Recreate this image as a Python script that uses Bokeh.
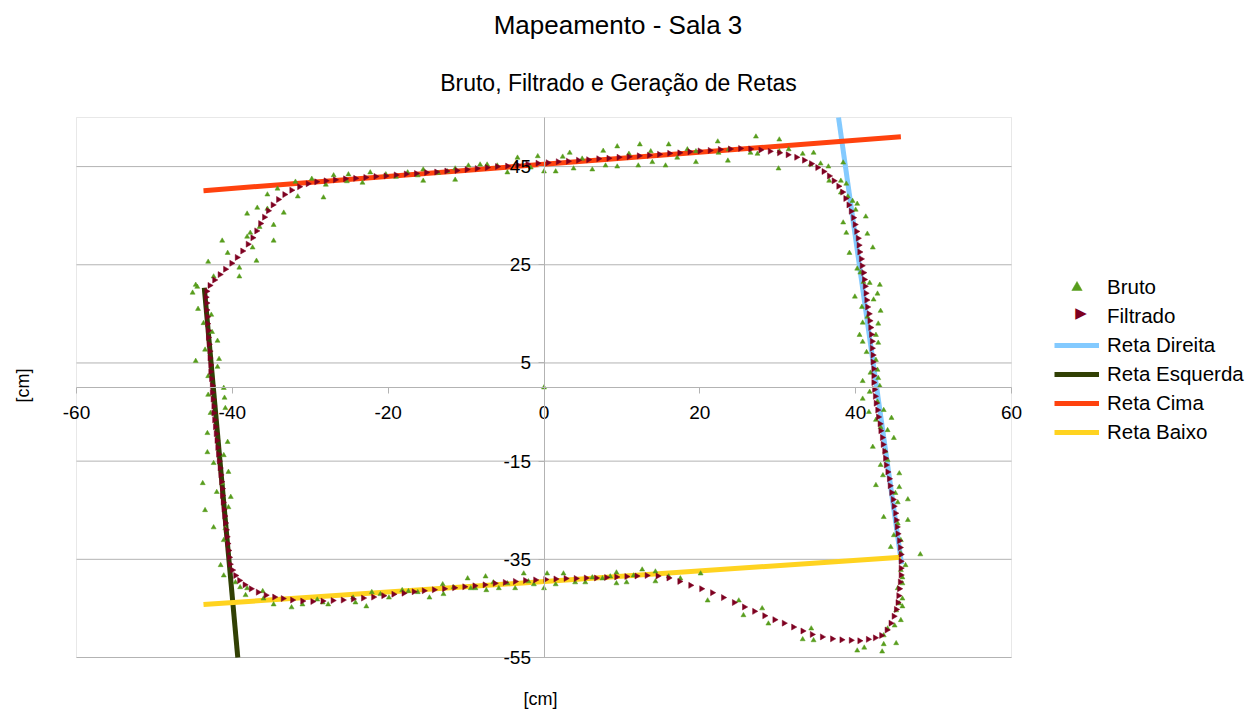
import math
from bokeh.plotting import figure
from bokeh.models import (Range1d, FixedTicker, Label, Legend, LegendItem, BoxAnnotation)
from bokeh.embed import file_html
from bokeh.resources import INLINE

# ---------------- data ----------------
title_text = "Mapeamento - Sala 3"
subtitle_text = "Bruto, Filtrado e Geração de Retas"
x_label = "[cm]"
y_label = "[cm]"

x_ticks = [-60, -40, -20, 0, 20, 40, 60]
y_ticks = [-55, -35, -15, 5, 25, 45]

series_names = ["Bruto", "Filtrado", "Reta Direita", "Reta Esquerda", "Reta Cima", "Reta Baixo"]

# fitted lines (end points)
reta_direita_x = [37.8, 45.9]
reta_direita_y = [55.0, -36.0]
reta_esquerda_x = [-43.6, -39.3]
reta_esquerda_y = [20.3, -55.0]
reta_cima_x = [-43.7, 45.8]
reta_cima_y = [40.1, 51.1]
reta_baixo_x = [-43.7, 45.8]
reta_baixo_y = [-44.2, -34.6]

# raw points (Bruto)
bruto_pts = [
    (0.0, 0.0),
    (-45.1, 19.3), (-44.5, 20.5), (-43.1, 25.6), (-42.4, 22.6), (-41.3, 29.9), (-40.6, 27.4),
    (-39.1, 24.4), (-39.1, 22.6), (-38.1, 35.4), (-38.1, 30.7), (-37.7, 31.5), (-37.4, 28.5),
    (-36.9, 25.8), (-36.8, 36.6), (-36.5, 32.7), (-35.5, 39.3), (-35.5, 36.4), (-34.7, 29.9),
    (-34.7, 33.1), (-34.2, 40.5), (-33.4, 35.6), (-31.9, 41.9), (-31.6, 38.9), (-29.8, 42.5),
    (-28.3, 38.7), (-28.0, 41.3), (-27.0, 43.2), (-25.1, 43.4), (-25.3, 42.0), (-23.3, 41.7),
    (-22.3, 43.8), (-20.3, 43.4), (-19.0, 42.9), (-17.5, 43.8), (-16.2, 43.2), (-15.5, 44.4),
    (-15.5, 42.1), (-13.6, 43.7), (-12.4, 44.0), (-11.4, 44.6), (-11.4, 42.3), (-9.7, 45.2),
    (-8.2, 45.4), (-7.3, 45.4), (-6.0, 45.2), (-4.7, 43.8), (-3.4, 46.8), (-1.7, 44.8),
    (-0.8, 47.1),
    (0.0, 44.0), (1.5, 44.0), (2.4, 47.0), (3.3, 47.8), (3.8, 44.6), (4.9, 46.6), (6.2, 44.4),
    (7.6, 48.2), (7.9, 45.2), (9.4, 49.1), (9.4, 45.0), (10.9, 47.6), (12.1, 45.2), (12.3, 49.5),
    (13.7, 48.1), (13.9, 45.9), (15.6, 45.2), (16.0, 49.5), (17.1, 46.8), (18.4, 48.5),
    (19.5, 48.1), (19.5, 45.9), (22.3, 50.1), (22.4, 47.8), (23.6, 46.2), (23.7, 48.5),
    (26.5, 47.8), (27.2, 51.1), (27.4, 47.6), (30.1, 44.6), (30.2, 50.5), (30.2, 48.1),
    (31.4, 48.5), (33.2, 47.6), (34.6, 47.8), (34.2, 45.4), (35.5, 45.6), (36.5, 45.0),
    (38.4, 45.8), (36.6, 42.1), (38.1, 42.1), (38.8, 41.5),
    (38.1, 39.7), (39.0, 38.9), (39.6, 38.0), (40.2, 37.4), (40.0, 36.2), (41.3, 34.8),
    (38.4, 33.6), (38.8, 31.5), (41.5, 31.3), (42.2, 28.5), (39.2, 27.4), (40.2, 24.2),
    (40.6, 23.4), (41.0, 21.5), (41.8, 21.3), (43.1, 20.9), (42.8, 19.1), (39.9, 18.5),
    (42.3, 17.9), (43.2, 15.6), (40.8, 16.4), (41.5, 14.4), (40.9, 13.2), (42.9, 13.0),
    (42.6, 10.7), (40.5, 10.7), (40.9, 9.3), (42.9, 9.1), (41.4, 7.2), (42.6, 5.6),
    (42.8, 3.6), (41.9, 3.0), (42.9, 1.9), (40.9, 1.3), (43.1, 0.3), (41.8, -0.9),
    (40.9, -2.3), (42.8, -2.9), (41.7, -5.0), (43.6, -4.6), (42.6, -6.6), (44.6, -6.2),
    (43.2, -8.1), (44.1, -8.7), (44.9, -10.3), (42.2, -12.1), (43.8, -13.0), (44.1, -14.8),
    (43.2, -15.8), (45.6, -17.5), (43.5, -17.9), (42.6, -19.9), (45.6, -20.3), (45.1, -21.5),
    (46.7, -22.8), (45.4, -23.4), (43.6, -26.4), (46.7, -27.0), (45.4, -27.7), (44.9, -30.1),
    (45.8, -31.1), (44.5, -32.5), (45.8, -33.8), (48.3, -34.0),
    (46.4, -36.2), (45.8, -37.2), (46.0, -38.7), (46.0, -39.9), (45.4, -40.9), (46.0, -43.0),
    (45.6, -44.0), (46.0, -44.6), (45.2, -45.4), (45.8, -47.4), (45.0, -48.5), (44.1, -49.1),
    (43.6, -50.5), (43.6, -52.3), (43.4, -53.8), (45.2, -52.1), (41.1, -53.0), (40.2, -53.6),
    (34.6, -51.5), (33.2, -51.3), (34.3, -49.1), (28.8, -48.1), (28.0, -45.0), (25.6, -46.4),
    (25.0, -43.4), (21.0, -43.4), (20.1, -37.9),
    (17.5, -38.9), (16.0, -38.5), (14.3, -37.5), (14.3, -39.5), (12.6, -37.1), (11.5, -38.3),
    (10.6, -39.7), (9.3, -37.7), (9.3, -39.9), (8.5, -38.5), (7.5, -38.9), (6.2, -38.7),
    (5.3, -39.7), (4.0, -39.7), (2.5, -37.9), (1.5, -40.1), (0.4, -37.9), (0.0, -40.9),
    (-1.3, -40.1), (-2.0, -39.5), (-2.6, -37.9), (-3.7, -40.9), (-4.7, -39.9), (-5.8, -40.9),
    (-6.5, -39.7), (-7.4, -41.3), (-7.5, -38.5), (-8.8, -40.9), (-9.4, -40.9), (-9.8, -38.9),
    (-11.6, -40.7), (-12.9, -42.1), (-13.0, -40.1), (-14.7, -42.8), (-16.2, -41.7),
    (-17.4, -41.5), (-18.2, -41.3), (-19.9, -42.8), (-21.0, -42.1), (-22.1, -41.7),
    (-22.8, -44.6), (-24.2, -43.8), (-24.5, -42.8), (-27.7, -44.2), (-28.4, -43.8),
    (-29.1, -43.2), (-31.0, -44.2), (-32.4, -44.8), (-34.7, -44.2), (-36.0, -43.0),
    (-36.1, -41.5), (-38.1, -40.9), (-38.3, -42.3), (-39.0, -40.7), (-39.6, -39.7),
    (-41.1, -38.3), (-41.5, -36.2),
    (-41.1, -31.1), (-40.9, -28.7), (-42.4, -28.5), (-43.5, -25.0), (-40.5, -24.4),
    (-40.2, -22.3), (-42.0, -21.3), (-41.3, -19.5), (-43.8, -19.5), (-40.5, -17.2),
    (-42.4, -15.4), (-41.1, -13.8), (-43.2, -13.2), (-40.6, -11.1), (-43.2, -9.3),
    (-42.8, -5.2), (-40.9, -4.2), (-41.0, -2.1), (-43.1, -1.5), (-41.1, -0.1), (-43.1, 2.3),
    (-41.9, 4.2), (-44.7, 5.4), (-41.7, 5.8), (-43.5, 7.7), (-41.9, 9.5), (-42.6, 11.3),
    (-43.7, 13.1), (-42.7, 14.8), (-44.4, 16.0), (-44.7, 20.9),
]

# filtered points (Filtrado)
filtrado_pts = [
    (-43.3, 19.6), (-42.9, 20.8), (-42.3, 21.9), (-41.6, 23.0), (-40.9, 24.1), (-40.1, 25.3),
    (-39.4, 26.5), (-38.7, 27.8), (-38.0, 29.2), (-37.4, 30.5), (-36.9, 31.9), (-36.4, 33.4),
    (-35.9, 34.7), (-35.4, 36.0), (-34.8, 37.2), (-34.1, 38.3), (-33.3, 39.3), (-32.4, 40.2),
    (-31.4, 40.9), (-30.3, 41.5), (-29.2, 41.9), (-28.0, 42.1),
    (-26.8, 42.3), (-25.5, 42.5), (-24.2, 42.6), (-22.9, 42.8), (-21.6, 43.0), (-20.3, 43.1),
    (-19.0, 43.3), (-17.7, 43.5), (-16.4, 43.6), (-15.1, 43.8), (-13.8, 43.9), (-12.5, 44.1),
    (-11.2, 44.2), (-9.9, 44.4), (-8.6, 44.6), (-7.3, 44.8), (-6.0, 45.0), (-4.7, 45.1),
    (-3.4, 45.3), (-2.1, 45.5), (-0.8, 45.7), (0.5, 45.8), (1.8, 46.0), (3.1, 46.1),
    (4.4, 46.3), (5.7, 46.4), (7.0, 46.6), (8.3, 46.7), (9.6, 46.9), (10.9, 47.0),
    (12.2, 47.2), (13.5, 47.3), (14.8, 47.5), (16.1, 47.7), (17.4, 47.8), (18.7, 48.0),
    (20.0, 48.2), (21.3, 48.3), (22.6, 48.5), (23.9, 48.6), (25.2, 48.7), (26.5, 48.6),
    (27.8, 48.4), (29.0, 48.1), (30.2, 47.8), (31.3, 47.4), (32.4, 46.9), (33.4, 46.3),
    (34.3, 45.6), (35.1, 44.8), (35.9, 44.0), (36.6, 43.1), (37.2, 42.1), (37.8, 41.0),
    (38.3, 39.8),
    (38.7, 38.5), (39.1, 37.2), (39.4, 35.9), (39.7, 34.6), (39.9, 33.2), (40.1, 31.8),
    (40.3, 30.4), (40.4, 29.0), (40.5, 27.6), (40.7, 26.2), (40.8, 24.8), (41.0, 23.4),
    (41.1, 22.0), (41.2, 20.6), (41.3, 19.2), (41.4, 17.8), (41.5, 16.4), (41.7, 15.0),
    (41.8, 13.6), (41.9, 12.2), (42.0, 10.8), (42.1, 9.4), (42.1, 8.0), (42.2, 6.6),
    (42.2, 5.2), (42.3, 3.8), (42.3, 2.4), (42.3, 1.0), (42.4, -0.4), (42.5, -1.8),
    (42.6, -3.2), (42.8, -4.6), (42.9, -6.0), (43.1, -7.4), (43.2, -8.8), (43.4, -10.2),
    (43.5, -11.6), (43.7, -13.0), (43.8, -14.4), (43.9, -15.8), (44.1, -17.2), (44.3, -18.6),
    (44.4, -20.0), (44.6, -21.4), (44.8, -22.8), (44.9, -24.2), (45.1, -25.6), (45.2, -27.0),
    (45.3, -28.4), (45.4, -29.8), (45.6, -31.2), (45.7, -32.6), (45.8, -34.0), (45.8, -35.4),
    (45.8, -36.8), (45.8, -38.2), (45.7, -39.6), (45.6, -41.0), (45.5, -42.4), (45.4, -43.8),
    (45.2, -45.2), (44.9, -46.6), (44.5, -48.0), (44.0, -49.4), (43.3, -50.5),
    (42.5, -51.0), (41.6, -51.3), (40.5, -51.6), (39.4, -51.5), (38.2, -51.4), (37.0, -51.2),
    (35.7, -50.8), (34.4, -50.3), (33.2, -49.6), (32.0, -48.8), (30.8, -48.0), (29.6, -47.3),
    (28.3, -46.5), (27.0, -45.6), (25.7, -44.7), (24.4, -43.8), (23.0, -42.8), (21.6, -41.8),
    (20.2, -41.0), (18.8, -40.3), (17.4, -39.5), (16.0, -38.8), (14.6, -38.4), (13.2, -38.3),
    (11.9, -38.4), (10.6, -38.5), (9.3, -38.6), (8.0, -38.7), (6.7, -38.8), (5.4, -38.8),
    (4.1, -38.9), (2.8, -38.9), (1.5, -39.0), (0.2, -39.1), (-1.1, -39.2), (-2.4, -39.3),
    (-3.7, -39.5), (-5.0, -39.7), (-6.3, -39.9), (-7.6, -40.2), (-8.9, -40.4), (-10.2, -40.6),
    (-11.5, -40.8), (-12.8, -41.0), (-14.1, -41.2), (-15.4, -41.4), (-16.7, -41.6),
    (-18.0, -41.9), (-19.3, -42.1), (-20.6, -42.4), (-21.9, -42.7), (-23.2, -42.9),
    (-24.5, -43.1), (-25.8, -43.3), (-27.1, -43.4), (-28.4, -43.5), (-29.7, -43.6),
    (-31.0, -43.5), (-32.3, -43.3), (-33.5, -43.0), (-34.6, -42.7), (-35.7, -42.3),
    (-36.7, -41.7), (-37.6, -41.0), (-38.4, -40.2), (-39.1, -39.3), (-39.6, -38.3),
    (-40.0, -37.2),
    (-40.3, -36.0), (-40.4, -34.6), (-40.5, -33.2), (-40.6, -31.8), (-40.7, -30.4),
    (-40.8, -29.0), (-40.9, -27.6), (-41.0, -26.2), (-41.1, -24.8), (-41.2, -23.4),
    (-41.3, -22.0), (-41.3, -20.6), (-41.4, -19.2), (-41.5, -17.8), (-41.6, -16.4),
    (-41.7, -15.0), (-41.8, -13.6), (-41.9, -12.2), (-42.0, -10.8), (-42.1, -9.4),
    (-42.2, -8.0), (-42.3, -6.6), (-42.4, -5.2), (-42.4, -3.8), (-42.5, -2.4), (-42.6, -1.0),
    (-42.6, 0.4), (-42.7, 1.8), (-42.8, 3.2), (-42.8, 4.6), (-42.9, 6.0), (-42.9, 7.4),
    (-43.0, 8.8), (-43.1, 10.2), (-43.1, 11.6), (-43.2, 13.0), (-43.2, 14.4), (-43.3, 15.8),
    (-43.3, 17.2), (-43.4, 18.4),
]

bruto_x = [p[0] for p in bruto_pts]
bruto_y = [p[1] for p in bruto_pts]
filtrado_x = [p[0] for p in filtrado_pts]
filtrado_y = [p[1] for p in filtrado_pts]

# ---------------- layout ----------------
W, H = 1251, 711
# plot-area (wall) placement in pixels, and its data extent
AREA_L, AREA_R, AREA_T, AREA_B = 76, 1011, 117, 657
X_MIN, X_MAX = x_ticks[0], x_ticks[-1]
Y_MIN, Y_MAX = -55, 55
kx = (AREA_R - AREA_L) / (X_MAX - X_MIN)
ky = (AREA_B - AREA_T) / (Y_MAX - Y_MIN)
x_start = X_MIN - AREA_L / kx
x_end = X_MAX + (W - AREA_R) / kx
y_end = Y_MAX + AREA_T / ky
y_start = Y_MIN - (H - AREA_B) / ky

FONT = "Liberation Sans"
GRID = "#b3b3b3"
C_BRUTO = "#579d1c"
C_FILT = "#7e0021"
C_DIR = "#83caff"
C_ESQ = "#314004"
C_CIMA = "#ff420e"
C_BAIXO = "#ffd320"

p = figure(width=W, height=H, output_backend="svg", toolbar_location=None,
           x_range=Range1d(x_start, x_end), y_range=Range1d(y_start, y_end),
           min_border=0, min_border_left=0, min_border_right=0,
           min_border_top=0, min_border_bottom=0)
p.background_fill_color = "white"
p.border_fill_color = "white"
p.outline_line_color = None
p.xgrid.visible = False
p.ygrid.visible = False

# horizontal grid lines inside the wall
p.segment(x0=X_MIN, x1=X_MAX, y0=y_ticks, y1=y_ticks, line_color=GRID, line_width=1,
          level="underlay")
# wall border
p.add_layout(BoxAnnotation(left=X_MIN, right=X_MAX, bottom=Y_MIN, top=Y_MAX,
                           fill_alpha=0, line_color=GRID, line_width=1, level="underlay"))

# axes crossing at the origin
p.xaxis.ticker = FixedTicker(ticks=x_ticks)
p.yaxis.ticker = FixedTicker(ticks=y_ticks)
p.xaxis.major_label_overrides = {t: str(t) for t in x_ticks}
p.yaxis.major_label_overrides = {t: str(t) for t in y_ticks}
p.xaxis.fixed_location = 0
p.yaxis.fixed_location = 0
p.xaxis.bounds = (X_MIN, X_MAX)
p.yaxis.bounds = (Y_MIN, Y_MAX)
for ax in (p.xaxis[0], p.yaxis[0]):
    ax.axis_line_color = GRID
    ax.major_tick_line_color = GRID
    ax.major_tick_out = 6
    ax.major_tick_in = 0
    ax.minor_tick_line_color = None
    ax.major_label_text_font = FONT
    ax.major_label_text_font_size = "19px"
    ax.major_label_text_color = "#000000"
p.xaxis.major_label_standoff = 12
p.yaxis.major_label_standoff = 7

# fitted lines
r_dir = p.line(reta_direita_x, reta_direita_y, line_color=C_DIR, line_width=5)
r_esq = p.line(reta_esquerda_x, reta_esquerda_y, line_color=C_ESQ, line_width=5)
r_cima = p.line(reta_cima_x, reta_cima_y, line_color=C_CIMA, line_width=5)
r_baixo = p.line(reta_baixo_x, reta_baixo_y, line_color=C_BAIXO, line_width=5)

# points
r_bruto = p.scatter(bruto_x, bruto_y, marker="triangle", size=5,
                    fill_color=C_BRUTO, line_color=C_BRUTO, line_width=0.5)
r_filt = p.scatter(filtrado_x, filtrado_y, marker="triangle", size=6, angle=-math.pi / 2,
                   fill_color=C_FILT, line_color=C_FILT, line_width=0.5)
# invisible stand-in for the legend entry (legend markers are not rotated by Bokeh)
r_filt_key = p.scatter(filtrado_x[:1], filtrado_y[:1], marker="triangle", size=6,
                       fill_alpha=0, line_alpha=0)

LEG_X, LEG_TOP = 1054, 266       # legend box position (pixels from the top-left)
LEG_PAD, ROW_H, ROW_GAP, GLYPH_W = 4, 26, 3, 45
legend = Legend(items=[
    LegendItem(label=series_names[0], renderers=[r_bruto]),
    LegendItem(label=series_names[1], renderers=[r_filt_key]),
    LegendItem(label=series_names[2], renderers=[r_dir]),
    LegendItem(label=series_names[3], renderers=[r_esq]),
    LegendItem(label=series_names[4], renderers=[r_cima]),
    LegendItem(label=series_names[5], renderers=[r_baixo]),
], location=(LEG_X, H - (LEG_TOP + 2 * LEG_PAD + 6 * ROW_H + 5 * ROW_GAP)))
legend.label_text_font = FONT
legend.label_text_font_size = "20.5px"
legend.label_text_color = "#000000"
legend.glyph_width = GLYPH_W
legend.glyph_height = ROW_H
legend.label_height = ROW_H
legend.spacing = ROW_GAP
legend.padding = LEG_PAD
legend.margin = 0
legend.label_standoff = 8
legend.border_line_color = None
legend.background_fill_alpha = 0
p.add_layout(legend)

# right-pointing key for "Filtrado" in the legend
p.add_layout(Label(x=LEG_X + LEG_PAD + GLYPH_W / 2,
                   y=H - (LEG_TOP + LEG_PAD + ROW_H + ROW_GAP + ROW_H / 2),
                   x_units="screen", y_units="screen", text="\u25b6",
                   text_align="center", text_baseline="middle", text_font="DejaVu Sans",
                   text_font_size="15px", text_color=C_FILT))

# titles and axis titles (screen units, relative to the bottom-left corner)
p.add_layout(Label(x=617.5, y=H - 24, x_units="screen", y_units="screen", text=title_text,
                   text_align="center", text_baseline="middle", text_font=FONT,
                   text_font_size="26px", text_color="#000000"))
p.add_layout(Label(x=618, y=H - 82, x_units="screen", y_units="screen", text=subtitle_text,
                   text_align="center", text_baseline="middle", text_font=FONT,
                   text_font_size="23px", text_color="#000000"))
p.add_layout(Label(x=540, y=H - 698, x_units="screen", y_units="screen", text=x_label,
                   text_align="center", text_baseline="middle", text_font=FONT,
                   text_font_size="18px", text_color="#000000"))
p.add_layout(Label(x=22, y=H - 385, x_units="screen", y_units="screen", text=y_label,
                   angle=math.pi / 2, text_align="center", text_baseline="middle",
                   text_font=FONT, text_font_size="18px", text_color="#000000"))

open("out.html", "w").write(file_html(p, INLINE))
